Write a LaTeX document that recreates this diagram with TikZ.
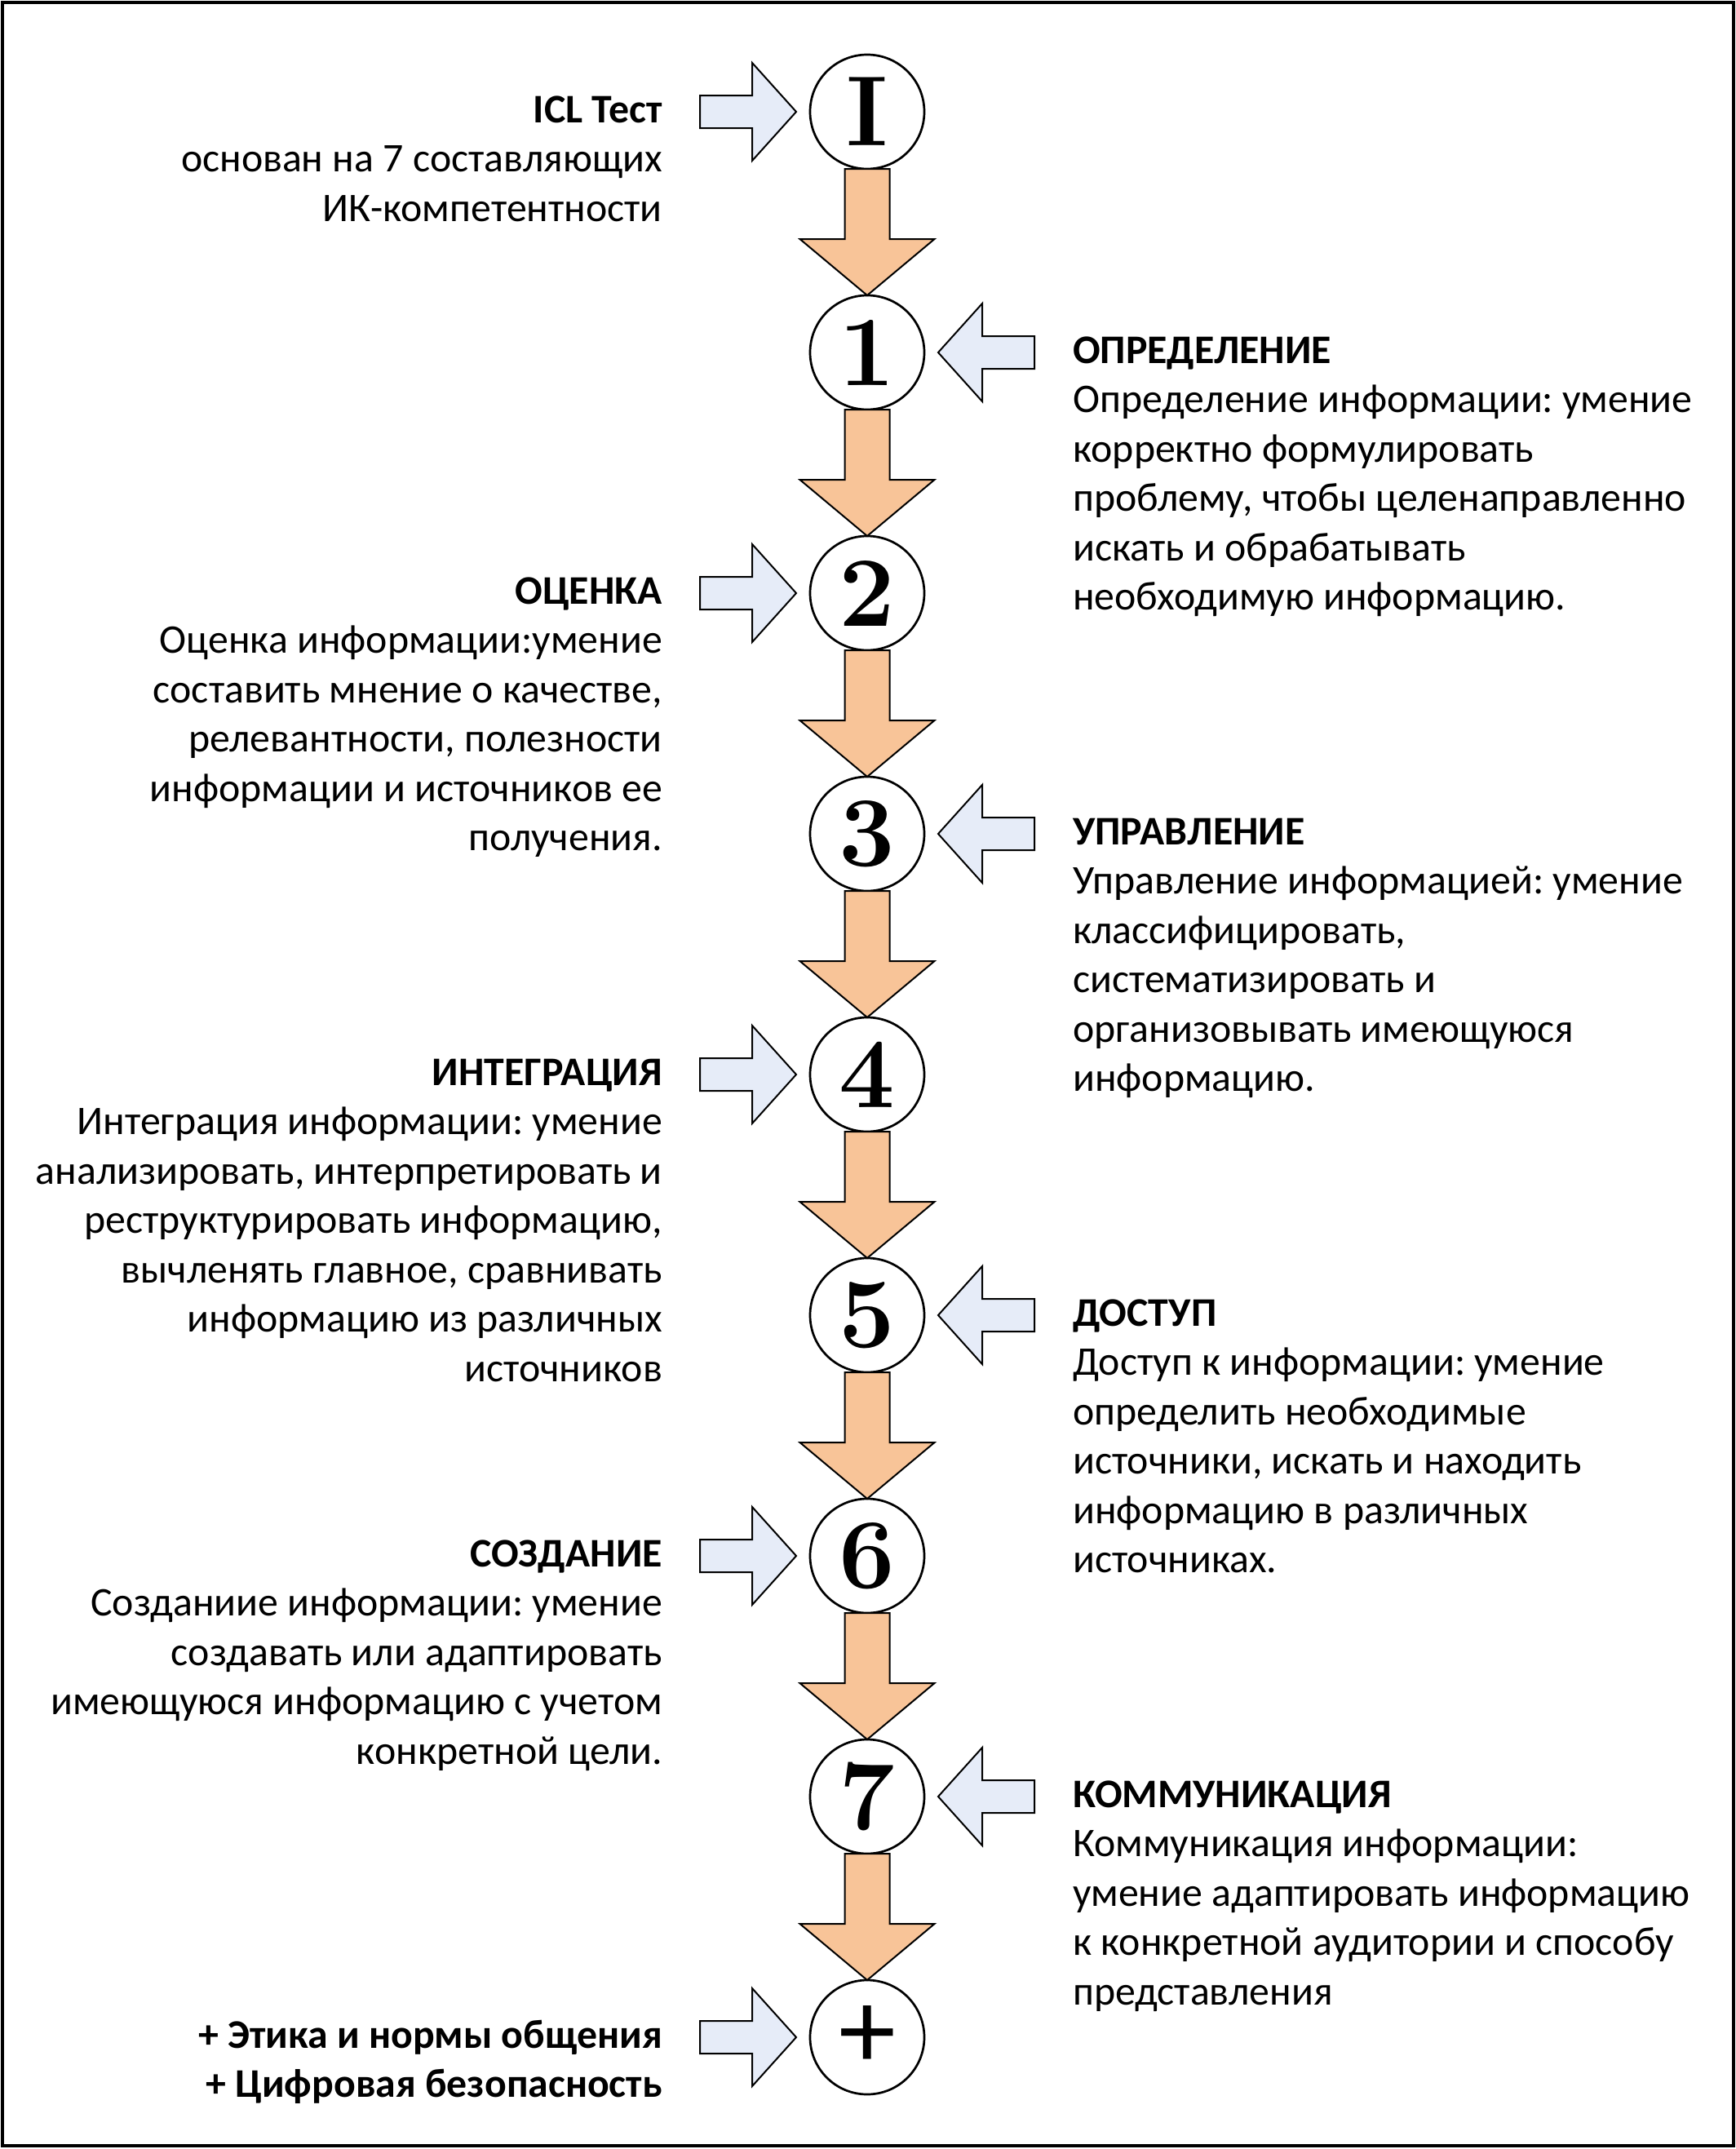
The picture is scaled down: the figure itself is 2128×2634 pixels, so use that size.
\documentclass[tikz,border=0pt]{standalone}
\usepackage{fontspec}
\newfontfamily\calib{Carlito}
\usetikzlibrary{positioning,calc}
\definecolor{stepfill}{RGB}{248,196,152}
\definecolor{infill}{RGB}{230,236,248}
\frenchspacing

\begin{document}
\begin{tikzpicture}[
    x=1pt, y=1pt,
    node distance=155pt and 17pt,
    num/.style={circle, draw, line width=2.7pt, minimum size=140pt, inner sep=0pt, outer sep=0pt, fill=white, font=\bfseries\fontsize{122}{122}\selectfont},
    lefttext/.style={inner sep=0pt, font=\calib\fontsize{49.8}{60.5}\selectfont},
    righttext/.style={inner sep=0pt, font=\calib\fontsize{49.8}{60.5}\selectfont},
    blockdown/.style={draw, line width=2pt, fill=stepfill, to path={let \p1=(\tikztostart), \p2=(\tikztotarget) in
      (\x1-27.5pt,\y1) -- (\x1+27.5pt,\y1) -- (\x1+27.5pt,\y2+69pt) -- (\x1+82.5pt,\y2+69pt) -- (\x1,\y2)
      -- (\x1-82.5pt,\y2+69pt) -- (\x1-27.5pt,\y2+69pt) -- cycle}},
    blockside/.style={draw, line width=2pt, fill=infill, to path={let \p1=(\tikztostart), \p2=(\tikztotarget), \n1={sign(\x2-\x1)} in
      (\x1,\y1+20pt) -- (\x2-\n1*54pt,\y1+20pt) -- (\x2-\n1*54pt,\y1+60pt) -- (\x2,\y1)
      -- (\x2-\n1*54pt,\y1-60pt) -- (\x2-\n1*54pt,\y1-20pt) -- (\x1,\y1-20pt) -- cycle}}
  ]
    \useasboundingbox (0,0) rectangle (2128,-2634);
    \draw[line width=4pt] (3,-3) rectangle (2125,-2630);

    % steps
    \node[num] (c0) at (1063,-137) {I};
    \node[num, below=of c0] (c1) {1};
    \node[num, below=of c1] (c2) {2};
    \node[num, below=of c2] (c3) {3};
    \node[num, below=of c3] (c4) {4};
    \node[num, below=of c4] (c5) {5};
    \node[num, below=of c5] (c6) {6};
    \node[num, below=of c6] (c7) {7};
    \node[num, font=\calib\fontsize{140}{140}\selectfont, below=of c7] (c8) {+};

    \draw[blockdown] (c0.south) to (c1.north);
    \draw[blockdown] (c1.south) to (c2.north);
    \draw[blockdown] (c2.south) to (c3.north);
    \draw[blockdown] (c3.south) to (c4.north);
    \draw[blockdown] (c4.south) to (c5.north);
    \draw[blockdown] (c5.south) to (c6.north);
    \draw[blockdown] (c6.south) to (c7.north);
    \draw[blockdown] (c7.south) to (c8.north);

    % side arrows
    \coordinate[left=of c0] (h0);   \coordinate[left=118pt of h0] (t0);
    \coordinate[right=of c1] (h1);  \coordinate[right=118pt of h1] (t1);
    \coordinate[left=of c2] (h2);   \coordinate[left=118pt of h2] (t2);
    \coordinate[right=of c3] (h3);  \coordinate[right=118pt of h3] (t3);
    \coordinate[left=of c4] (h4);   \coordinate[left=118pt of h4] (t4);
    \coordinate[right=of c5] (h5);  \coordinate[right=118pt of h5] (t5);
    \coordinate[left=of c6] (h6);   \coordinate[left=118pt of h6] (t6);
    \coordinate[right=of c7] (h7);  \coordinate[right=118pt of h7] (t7);
    \coordinate[left=of c8] (h8);   \coordinate[left=118pt of h8] (t8);

    \draw[blockside] (t0) to (h0);
    \draw[blockside] (t1) to (h1);
    \draw[blockside] (t2) to (h2);
    \draw[blockside] (t3) to (h3);
    \draw[blockside] (t4) to (h4);
    \draw[blockside] (t5) to (h5);
    \draw[blockside] (t6) to (h6);
    \draw[blockside] (t7) to (h7);
    \draw[blockside] (t8) to (h8);

    % descriptions
    \node[lefttext, left=46pt of t0, anchor=base east, yshift=-13pt] (d0)
      {\begin{tabular}[t]{@{}r@{}}\textbf{ICL Тест}\\основан на 7 составляющих\\ИК-компетентности\end{tabular}};
    \node[righttext, right=47pt of t1, anchor=base west, yshift=-13pt] (d1)
      {\begin{tabular}[t]{@{}l@{}}\textbf{ОПРЕДЕЛЕНИЕ}\\Определение информации: умение\\корректно формулировать\\проблему, чтобы целенаправленно\\искать и обрабатывать\\необходимую информацию.\end{tabular}};
    \node[lefttext, left=46pt of t2, anchor=base east, yshift=-13pt] (d2)
      {\begin{tabular}[t]{@{}r@{}}\textbf{ОЦЕНКА}\\Оценка информации:умение\\составить мнение о качестве,\\релевантности, полезности\\информации и источников ее\\получения.\end{tabular}};
    \node[righttext, right=47pt of t3, anchor=base west, yshift=-13pt] (d3)
      {\begin{tabular}[t]{@{}l@{}}\textbf{УПРАВЛЕНИЕ}\\Управление информацией: умение\\классифицировать,\\систематизировать и\\организовывать имеющуюся\\информацию.\end{tabular}};
    \node[lefttext, left=46pt of t4, anchor=base east, yshift=-13pt] (d4)
      {\begin{tabular}[t]{@{}r@{}}\textbf{ИНТЕГРАЦИЯ}\\Интеграция информации: умение\\анализировать, интерпретировать и\\реструктурировать информацию,\\вычленять главное, сравнивать\\информацию из различных\\источников\end{tabular}};
    \node[righttext, right=47pt of t5, anchor=base west, yshift=-13pt] (d5)
      {\begin{tabular}[t]{@{}l@{}}\textbf{ДОСТУП}\\Доступ к информации: умение\\определить необходимые\\источники, искать и находить\\информацию в различных\\источниках.\end{tabular}};
    \node[lefttext, left=46pt of t6, anchor=base east, yshift=-13pt] (d6)
      {\begin{tabular}[t]{@{}r@{}}\textbf{СОЗДАНИЕ}\\Созданиие информации: умение\\создавать или адаптировать\\имеющуюся информацию с учетом\\конкретной цели.\end{tabular}};
    \node[righttext, right=47pt of t7, anchor=base west, yshift=-13pt] (d7)
      {\begin{tabular}[t]{@{}l@{}}\textbf{КОММУНИКАЦИЯ}\\Коммуникация информации:\\умение адаптировать информацию\\к конкретной аудитории и способу\\представления\end{tabular}};
    \node[lefttext, left=46pt of t8, anchor=base east, yshift=-13pt] (d8)
      {\begin{tabular}[t]{@{}r@{}}\textbf{+ Этика и нормы общения}\\\textbf{+ Цифровая безопасность}\end{tabular}};
  \end{tikzpicture}
\end{document}
